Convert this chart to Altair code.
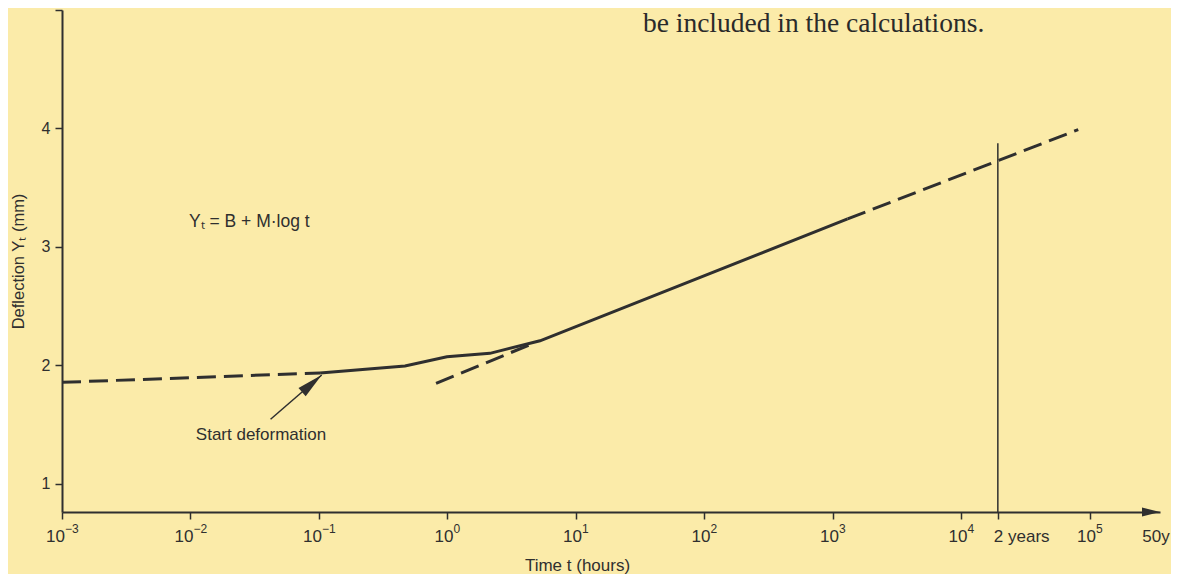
import altair as alt
import pandas as pd

BG = "#FBEBA9"
INK = "#2f2f2f"
FONT = "Liberation Sans"

# ---- data ----
early_t = [0.001, 0.102]
early_y = [1.855, 1.935]
meas_t = [0.102, 0.467, 0.99, 2.14, 5.25, 1300]
meas_y = [1.935, 1.993, 2.072, 2.10, 2.206, 3.235]
ext_t = [1300, 81100]
ext_y = [3.235, 3.99]
back_t = [0.815, 4.66]
back_y = [1.847, 2.185]
two_years_t = [19200]
two_years_y = [0.76]
two_years_top = [3.874]
arrow_t = [0.042, 0.105]
arrow_y = [1.543, 1.917]
t_domain = [0.001, 351000]
y_domain = [0.76, 5.0]

x_tick_vals = [1e-3, 1e-2, 1e-1, 1, 10, 100, 1e3, 1e4, 19200, 1e5]
neg_t = [1e-3, 1e-2, 1e-1]
neg_exp = ["−3", "−2", "−1"]
pos_t = [1, 10, 100, 1e3, 1e4, 1e5]
pos_exp = ["0", "1", "2", "3", "4", "5"]
word_t = [19200]
word_lbl = ["2 years"]
end_t = [351000]
end_lbl = ["50y"]

y_tick_vals = [1, 2, 3, 4, 5]

eq_text = ["Yₜ = B + M·log t"]
eq_t = [0.00973]
eq_y = [3.209]
start_text = ["Start deformation"]
start_t = [0.0354]
start_y = [1.41]

page_text = ["be included in the calculations."]
page_t = [33.2]
page_y = [4.81]

# ---- axes ----
x_axis = alt.Axis(
    values=x_tick_vals, labels=False, grid=False,
    domainColor=INK, domainWidth=2, tickColor=INK, tickWidth=1.5, tickSize=7,
    title="Time t (hours)", titleFont=FONT, titleFontSize=17, titleFontWeight="normal",
    titleColor=INK, titleX=515, titleY=58, titleBaseline="alphabetic",
    titleAlign="center",
)
y_axis = alt.Axis(
    values=y_tick_vals,
    labelExpr="datum.value > 4.5 ? '' : datum.label",
    grid=False, domainColor=INK, domainWidth=2, tickColor=INK, tickWidth=1.5,
    tickSize=7, labelFontSize=16, labelFont=FONT, labelColor=INK, labelPadding=5,
    title="Deflection Yₜ (mm)", titleFont=FONT, titleFontSize=16.5,
    titleFontWeight="normal", titleColor=INK, titlePadding=15,
)

xs = alt.Scale(type="log", domain=t_domain, nice=False)
ys = alt.Scale(domain=y_domain, nice=False, zero=False)


def df(ts, vs, txt=None):
    d = {"t": ts, "y": vs}
    if txt is not None:
        d["txt"] = txt
    return pd.DataFrame(d)


dash = [19, 8]
LW = 3
early = alt.Chart(df(early_t, early_y)).mark_line(color=INK, strokeWidth=LW, strokeDash=dash)
meas = alt.Chart(df(meas_t, meas_y)).mark_line(color=INK, strokeWidth=LW)
ext = alt.Chart(df(ext_t, ext_y)).mark_line(color=INK, strokeWidth=LW, strokeDash=dash)
back = alt.Chart(df(back_t, back_y)).mark_line(color=INK, strokeWidth=LW, strokeDash=dash)

vline = alt.Chart(pd.DataFrame({"t": two_years_t, "y": two_years_y,
                                "y2": two_years_top})).mark_rule(
    color=INK, strokeWidth=1.5).encode(y2="y2:Q")

arrow_line = alt.Chart(df(arrow_t, arrow_y)).mark_line(color=INK, strokeWidth=1.5)
arrow_head = alt.Chart(df(arrow_t[1:], arrow_y[1:])).mark_point(
    shape="M0,0L0.42,2L-0.42,2Z", size=676, filled=True, fill=INK,
    opacity=1, strokeWidth=0, angle=49)

axis_head = alt.Chart(df([t_domain[1]], [y_domain[0]])).mark_point(
    shape="M0,0L-2,-0.5L-2,0.5Z", size=324, filled=True, fill=INK,
    opacity=1, strokeWidth=0)

ymin_list = lambda n: [y_domain[0]] * n

def tick_text(ts, labels, size, align, dx, dy):
    return alt.Chart(df(ts, ymin_list(len(ts)), labels)).mark_text(
        font=FONT, fontSize=size, color=INK, align=align, baseline="alphabetic",
        dx=dx, dy=dy).encode(text="txt:N")

neg_base = tick_text(neg_t, ["10"] * len(neg_t), 17, "right", 3, 30)
neg_sup = tick_text(neg_t, neg_exp, 12, "left", 3, 21)
pos_base = tick_text(pos_t, ["10"] * len(pos_t), 17, "right", 6, 30)
pos_sup = tick_text(pos_t, pos_exp, 12, "left", 6, 21)
word = tick_text(word_t, word_lbl, 17, "left", -4, 30)
endl = tick_text(end_t, end_lbl, 17, "center", -4, 30)

eq = alt.Chart(df(eq_t, eq_y, eq_text)).mark_text(
    font=FONT, fontSize=17.5, color=INK, baseline="middle", align="left").encode(text="txt:N")
start = alt.Chart(df(start_t, start_y, start_text)).mark_text(
    font=FONT, fontSize=17, color=INK, baseline="middle", align="center").encode(text="txt:N")

page = alt.Chart(df(page_t, page_y, page_text)).mark_text(
    font="Liberation Serif", fontSize=27.5, color="#2a2a2a", align="left",
    baseline="alphabetic").encode(text="txt:N")

chart = alt.layer(
    early, meas, ext, back, vline, arrow_line, arrow_head, axis_head,
    neg_base, neg_sup, pos_base, pos_sup, word, endl, eq, start, page
).encode(
    x=alt.X("t:Q", scale=xs, axis=x_axis),
    y=alt.Y("y:Q", scale=ys, axis=y_axis),
).properties(
    width=1098, height=502,
    autosize=alt.AutoSizeParams(type="none"),
    padding={"left": 54, "top": 2, "right": 11, "bottom": 62},
    background=BG,
).configure_view(stroke=None)

chart.save("out.html", embed_options={"renderer": "svg", "actions": False})
